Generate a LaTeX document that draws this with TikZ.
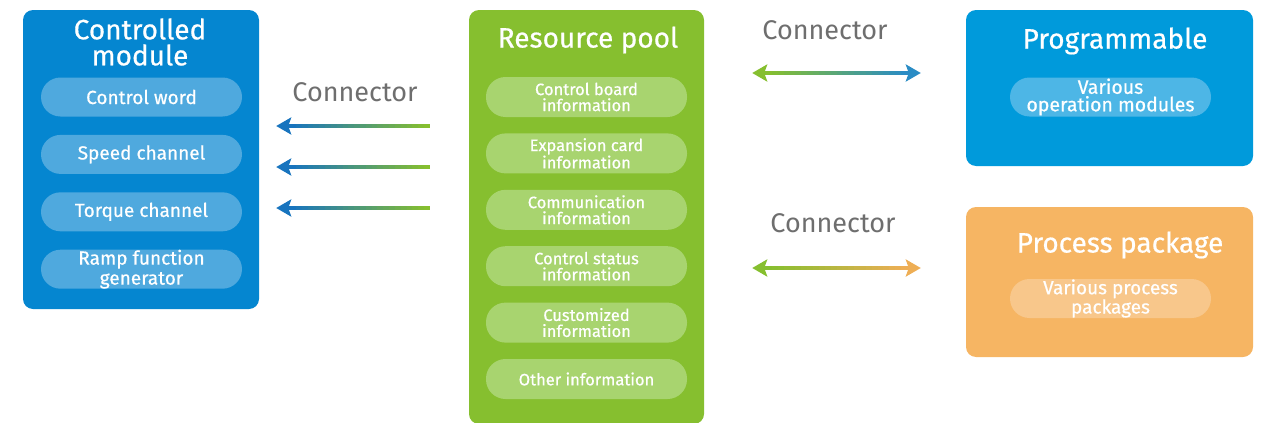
\documentclass[tikz,border=0pt]{standalone}
\usepackage{fontspec}
\setmainfont{Fira Sans}
\newfontfamily\semib{Fira Sans}[FakeBold=0.6]
\usepackage{xcolor}
\usepackage{tikz}
\usetikzlibrary{arrows.meta,positioning,calc}
\definecolor{modblue}{HTML}{0586D0}
\definecolor{modpill}{HTML}{4FA9DE}
\definecolor{poolgreen}{HTML}{86BF2F}
\definecolor{poolpill}{HTML}{A8D46F}
\definecolor{progblue}{HTML}{009ADB}
\definecolor{progpill}{HTML}{4DB6E6}
\definecolor{pkgorange}{HTML}{F6B563}
\definecolor{pkgpill}{HTML}{F8C78B}
\definecolor{arrblue}{HTML}{1874BE}
\definecolor{arrblueb}{HTML}{2A8CC5}
\definecolor{arrorange}{HTML}{EEAE55}
\definecolor{labgray}{HTML}{6E6E6E}
% shaft of a connector, colour running from #3 to #4
\newcommand{\gradshaft}[4]{%
  \foreach \k in {0,...,23}{%
    \pgfmathtruncatemacro{\pc}{\k*100/23}%
    \draw[line width=4pt,color=#4!\pc!#3]
      ($(#1)!\k/24!(#2)$) -- ($(#1)!\k/24+1/24+0.004!(#2)$);}}

\begin{document}
\begin{tikzpicture}[
  x=1pt,y=-1pt,
  node distance=18pt,
  every node/.style={align=center,text=white,inner sep=0pt},
  bigbox/.style={rounded corners=10pt,minimum width=#1},
  title/.style={font=\semib\fontsize{28}{26}\selectfont},
  pill/.style={rounded corners=19.5pt,minimum width=201pt,minimum height=39pt},
  modpillbox/.style={pill,fill=modpill,font=\semib\fontsize{19}{18}\selectfont},
  poolpillbox/.style={pill,fill=poolpill,minimum height=40pt,font=\semib\fontsize{16.5}{16}\selectfont},
  conlabel/.style={text=labgray,font=\fontsize{27}{27}\selectfont},
  tip/.style={-{Stealth[length=15pt,width=17pt,inset=3pt]},line width=4pt,color=#1}
]
\useasboundingbox (0,0) rectangle (1262,423);

% boxes
\node[bigbox=236pt,fill=modblue,minimum height=299pt] (mod) at (141,159.5) {};
\node[bigbox=235pt,fill=poolgreen,minimum height=414pt] (pool) at (586.5,217) {};
\node[bigbox=287pt,fill=progblue,minimum height=156pt] (prog) at (1109.5,88) {};
\node[bigbox=287pt,fill=pkgorange,minimum height=150pt] (pkg) at (1109.5,282) {};

% titles
\node[title] (modtitle) at (140,42) {Controlled\\module};
\node[title] (pooltitle) at (588,40) {Resource pool};
\node[title] (progtitle) at (1115,41) {Programmable};
\node[title] (pkgtitle) at (1120,245) {Process package};

% controlled module
\node[modpillbox] (cw) at (141.5,97) {Control word};
\node[modpillbox,below=of cw] (sc) {Speed channel};
\node[modpillbox,below=of sc] (tc) {Torque channel};
\node[modpillbox,below=of tc,font=\semib\fontsize{19}{20}\selectfont] (rf) {Ramp function\\generator};

% resource pool
\begin{scope}[node distance=16pt]
\node[poolpillbox] (cb) at (586.5,97) {Control board\\information};
\node[poolpillbox,below=of cb] (ec) {Expansion card\\information};
\node[poolpillbox,below=of ec] (ci) {Communication\\information};
\node[poolpillbox,below=of ci] (cs) {Control status\\information};
\node[poolpillbox,below=of cs] (cu) {Customized\\information};
\node[poolpillbox,below=of cu] (oi) {Other information};
\end{scope}

% right side
\node[pill,fill=progpill,font=\semib\fontsize{19.5}{17.5}\selectfont] (vo) at (1110.5,97) {Various\\operation modules};
\node[pill,fill=pkgpill,font=\semib\fontsize{19}{17.5}\selectfont] (vp) at (1110.5,298.5) {Various process\\packages};

% connectors
\node[conlabel] (lab1) at (355,92) {Connector};
\node[conlabel] (lab2) at (825,30) {Connector};
\node[conlabel] (lab3) at (833,223) {Connector};

\foreach \y [count=\n] in {126,167,208}{
  \coordinate (s\n) at ([xshift=-39pt]pool.west |- 0,\y);
  \coordinate (e\n) at ([xshift=17pt]mod.east |- 0,\y);
  \coordinate (m\n) at ($(e\n)!14pt!(s\n)$);
  \gradshaft{s\n}{m\n}{poolgreen}{arrblue}
  \draw[tip=arrblue] (m\n) -- (e\n);
}

\coordinate (ps) at ([xshift=48pt]pool.east |- 0,73);
\coordinate (pe) at ([xshift=-45pt]prog.west |- 0,73);
\coordinate (ps1) at ($(ps)!14pt!(pe)$);
\coordinate (pe1) at ($(pe)!14pt!(ps)$);
\gradshaft{ps1}{pe1}{poolgreen}{arrblueb}
\draw[tip=poolgreen] (ps1) -- (ps);
\draw[tip=arrblueb] (pe1) -- (pe);

\coordinate (ks) at ([xshift=48pt]pool.east |- 0,268);
\coordinate (ke) at ([xshift=-45pt]pkg.west |- 0,268);
\coordinate (ks1) at ($(ks)!14pt!(ke)$);
\coordinate (ke1) at ($(ke)!14pt!(ks)$);
\gradshaft{ks1}{ke1}{poolgreen}{arrorange}
\draw[tip=poolgreen] (ks1) -- (ks);
\draw[tip=arrorange] (ke1) -- (ke);
\end{tikzpicture}
\end{document}
